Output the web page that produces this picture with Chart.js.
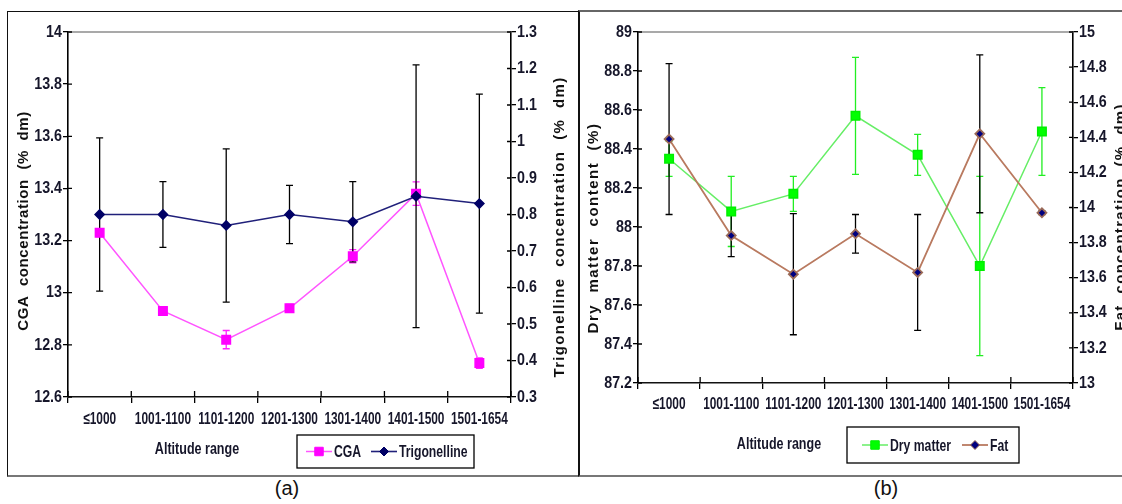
<!DOCTYPE html>
<html>
<head>
<meta charset="utf-8">
<script src="https://cdn.jsdelivr.net/npm/chart.js"></script>
<style>
  body { margin:0; background:#fff; width:1122px; height:504px; position:relative; overflow:hidden; }
  canvas { position:absolute; }
  .frame { position:absolute; box-sizing:border-box; }
  .cap { position:absolute; font:20px "Liberation Sans", Arial, sans-serif; color:#111; transform:translateX(-50%); }
</style>
</head>
<body>
<div class="frame" style="left:7px;top:11px;width:572px;height:466px;border:1.5px solid #111;border-bottom:2px solid #777;"></div>
<div class="frame" style="left:578px;top:10px;width:560px;height:467px;border-left:2px solid #111;border-top:2px solid #666;border-bottom:2px solid #777;"></div>
<canvas id="chartA" width="570" height="463" style="left:8px;top:12px;"></canvas>
<canvas id="chartB" width="542" height="463" style="left:580px;top:12px;"></canvas>
<div class="cap" style="left:287px;top:477px;">(a)</div>
<div class="cap" style="left:886px;top:477px;">(b)</div>
<script>
// === DATA ===
const altitudes = ['≤1000', '1001-1100', '1101-1200', '1201-1300', '1301-1400', '1401-1500', '1501-1654'];

const cga      = [13.23, 12.93, 12.82, 12.94, 13.14, 13.38, 12.73];
const cgaErr   = [0.015, 0.015, 0.035, 0.015, 0.025, 0.045, 0.02];
const trigonelline = [0.80, 0.80, 0.77, 0.80, 0.78, 0.85, 0.83];
const trigErr      = [0.21, 0.09, 0.21, 0.08, 0.11, 0.36, 0.30];

const dryMatter = [88.35, 88.08, 88.17, 88.57, 88.37, 87.80, 88.49];
const dryErr    = [0.09, 0.18, 0.09, 0.30, 0.105, 0.46, 0.225];
const fat       = [14.39, 13.84, 13.62, 13.85, 13.63, 14.42, 13.97];
const fatErr    = [0.43, 0.12, 0.345, 0.11, 0.33, 0.45, 0.01];

const FONT = '"Liberation Sans", Arial, sans-serif';
const TICK_COLOR = '#16162a';

// condensed text: liberation sans squeezed horizontally (arial narrow look)
function narrowText(ctx, text, x, y, align, squeeze) {
  ctx.save();
  ctx.translate(x, y);
  ctx.scale(squeeze, 1);
  ctx.textAlign = align;
  ctx.fillText(text, 0, 0);
  ctx.restore();
}

// === ERROR BARS (from the same scales) ===
const errorBars = {
  id: 'errorBars',
  beforeDatasetsDraw(chart) {
    const ctx = chart.ctx;
    chart.data.datasets.forEach((ds, i) => {
      if (!ds.errors) return;
      const meta = chart.getDatasetMeta(i);
      const ys = chart.scales[ds.yAxisID];
      ctx.save();
      ctx.strokeStyle = ds.errorColor;
      ctx.lineWidth = 1.3;
      meta.data.forEach((pt, j) => {
        const top = ys.getPixelForValue(ds.data[j] + ds.errors[j]);
        const bot = ys.getPixelForValue(ds.data[j] - ds.errors[j]);
        ctx.beginPath();
        ctx.moveTo(pt.x, top); ctx.lineTo(pt.x, bot);
        ctx.moveTo(pt.x - 3.5, top); ctx.lineTo(pt.x + 3.5, top);
        ctx.moveTo(pt.x - 3.5, bot); ctx.lineTo(pt.x + 3.5, bot);
        ctx.stroke();
      });
      ctx.restore();
    });
  }
};

// === TICK LABELS, TITLES, TOP LINE, LEGEND BOX ===
const decor = {
  id: 'decor',
  afterDraw(chart, args, o) {
    const ctx = chart.ctx, a = chart.chartArea;
    ctx.save();
    ctx.strokeStyle = '#8c8c8c'; ctx.lineWidth = 1.5;
    ctx.beginPath(); ctx.moveTo(a.left, a.top); ctx.lineTo(a.right, a.top); ctx.stroke();

    // inner half of the crossing tick marks
    ctx.strokeStyle = '#000'; ctx.lineWidth = 1.3;
    ctx.beginPath();
    ['yL', 'yR'].forEach(id => {
      const s = chart.scales[id];
      s.ticks.forEach((t, i) => {
        const y = s.getPixelForTick(i);
        if (s.position === 'left') { ctx.moveTo(a.left, y); ctx.lineTo(a.left + 4, y); }
        else { ctx.moveTo(a.right, y); ctx.lineTo(a.right - 4, y); }
      });
    });
    const xs = chart.scales.x;
    const bw = (a.right - a.left) / xs.ticks.length;
    for (let i = 0; i <= xs.ticks.length; i++) {
      const x = a.left + i * bw;
      ctx.moveTo(x, a.bottom); ctx.lineTo(x, a.bottom - 6);
    }
    ctx.stroke();

    // tick labels
    ctx.fillStyle = TICK_COLOR; ctx.textBaseline = 'middle';
    ctx.font = 'bold 17px ' + FONT;
    ['yL', 'yR'].forEach(id => {
      const s = chart.scales[id];
      s.ticks.forEach((t, i) => {
        const y = s.getPixelForTick(i);
        if (s.position === 'left') narrowText(ctx, fmt(t.value), s.right - 6, y, 'right', 0.84);
        else narrowText(ctx, fmt(t.value), s.left + 6, y, 'left', 0.84);
      });
    });
    ctx.font = 'bold 16.5px ' + FONT;
    xs.ticks.forEach((t, i) => narrowText(ctx, xs.getLabelForValue(t.value), xs.getPixelForTick(i), xs.top + o.labelGap, 'center', 0.72));

    // axis titles
    ctx.fillStyle = '#111';
    ctx.textAlign = 'center';
    ctx.font = 'bold 15px ' + FONT;
    o.yTitles.forEach(t => {
      ctx.save(); ctx.translate(t.x, t.y); ctx.rotate(-Math.PI / 2);
      ctx.letterSpacing = t.spacing + 'px';
      ctx.fillText(t.text, 0, 0); ctx.restore();
    });
    ctx.font = 'bold 16.5px ' + FONT;
    ctx.fillStyle = TICK_COLOR;
    narrowText(ctx, o.xTitle.text, o.xTitle.x, o.xTitle.y, 'center', 0.76);

    // legend
    const L = o.legend;
    ctx.strokeStyle = '#000'; ctx.lineWidth = 1.3;
    ctx.strokeRect(L.x, L.y, L.w, L.h);
    const cy = L.y + L.h / 2;
    L.items.forEach(it => {
      const ds = chart.data.datasets[it.ds];
      ctx.strokeStyle = ds.borderColor; ctx.lineWidth = ds.borderWidth;
      ctx.beginPath(); ctx.moveTo(it.x, cy); ctx.lineTo(it.x + 26, cy); ctx.stroke();
      ctx.fillStyle = ds.pointBackgroundColor; ctx.strokeStyle = ds.pointBorderColor;
      ctx.lineWidth = 1;
      Chart.helpers.drawPoint(ctx, { pointStyle: ds.pointStyle, radius: ds.pointRadius, rotation: 0, borderWidth: 1 }, it.x + 13, cy);
      ctx.fillStyle = TICK_COLOR;
      narrowText(ctx, it.text, it.x + 28, cy + 1, 'left', 0.74);
    });
    ctx.restore();
  }
};

function fmt(v) { return String(+v.toFixed(1)); }

function yAxis(pos, min, max, step, width) {
  return {
    type: 'linear', position: pos, min: min, max: max,
    afterFit: s => { s.width = width; },
    border: { color: '#000', width: 1.6 },
    grid: { drawOnChartArea: false, color: '#000', lineWidth: 1.3, tickLength: 5 },
    ticks: { stepSize: step, display: false }
  };
}

function xAxis(height) {
  return {
    type: 'category', offset: true,
    afterFit: s => { s.height = height; },
    border: { color: '#111', width: 1.6 },
    grid: { offset: true, drawOnChartArea: false, color: '#000', lineWidth: 1.3, tickLength: 6 },
    ticks: { autoSkip: false, maxRotation: 0, display: false }
  };
}

const common = {
  responsive: false, animation: false,
  layout: { padding: { top: 20, left: 0, right: 0, bottom: 0 } },
  plugins: { legend: { display: false }, tooltip: { enabled: false } }
};

// === (a) CGA / TRIGONELLINE ===
new Chart(document.getElementById('chartA'), {
  type: 'line',
  data: {
    labels: altitudes,
    datasets: [
      { label: 'CGA', data: cga, errors: cgaErr, errorColor: '#ff22ff', yAxisID: 'yL', order: 1,
        borderColor: '#ff55ff', borderWidth: 1.5, pointStyle: 'rect', pointRadius: 6,
        pointBackgroundColor: '#ff00ff', pointBorderColor: '#ff00ff', tension: 0 },
      { label: 'Trigonelline', data: trigonelline, errors: trigErr, errorColor: '#000', yAxisID: 'yR', order: 0,
        borderColor: '#20207a', borderWidth: 1.6, pointStyle: 'rectRot', pointRadius: 4.5,
        pointBackgroundColor: '#000066', pointBorderColor: '#000066', tension: 0 }
    ]
  },
  options: Object.assign({}, common, {
    scales: {
      x: xAxis(78),
      yL: yAxis('left', 12.6, 14, 0.2, 60),
      yR: yAxis('right', 0.3, 1.3, 0.1, 67)
    },
    plugins: Object.assign({}, common.plugins, {
      decor: {
        labelGap: 22,
        yTitles: [
          { text: 'CGA  concentration  (%  dm)', x: 16, y: 209, spacing: 0.6 },
          { text: 'Trigonelline  concentration  (%  dm)', x: 552, y: 215, spacing: 1.3 }
        ],
        xTitle: { text: 'Altitude range', x: 189, y: 437 },
        legend: { x: 289, y: 423, w: 177, h: 33,
          items: [ { ds: 0, x: 298, text: 'CGA' }, { ds: 1, x: 363, text: 'Trigonelline' } ] }
      }
    })
  }),
  plugins: [errorBars, decor]
});

// === (b) DRY MATTER / FAT ===
new Chart(document.getElementById('chartB'), {
  type: 'line',
  data: {
    labels: altitudes,
    datasets: [
      { label: 'Dry matter', data: dryMatter, errors: dryErr, errorColor: '#22ee22', yAxisID: 'yL', order: 1,
        borderColor: '#66ee66', borderWidth: 1.5, pointStyle: 'rect', pointRadius: 6,
        pointBackgroundColor: '#00ff00', pointBorderColor: '#00ee00', tension: 0 },
      { label: 'Fat', data: fat, errors: fatErr, errorColor: '#000', yAxisID: 'yR', order: 0,
        borderColor: '#b97a60', borderWidth: 1.8, pointStyle: 'rectRot', pointRadius: 4.5,
        pointBackgroundColor: '#000080', pointBorderColor: '#9a6a58', tension: 0 }
    ]
  },
  options: Object.assign({}, common, {
    scales: {
      x: xAxis(92),
      yL: yAxis('left', 87.2, 89, 0.2, 58),
      yR: yAxis('right', 13, 15, 0.2, 49)
    },
    plugins: Object.assign({}, common.plugins, {
      decor: {
        labelGap: 21,
        yTitles: [
          { text: 'Dry  matter  content  (%)', x: 14, y: 216, spacing: 1.5 },
          { text: 'Fat  concentration  (%  dm)', x: 541, y: 205, spacing: 1.3 }
        ],
        xTitle: { text: 'Altitude range', x: 199, y: 432 },
        legend: { x: 267, y: 415, w: 172, h: 36,
          items: [ { ds: 0, x: 282, text: 'Dry matter' }, { ds: 1, x: 382, text: 'Fat' } ] }
      }
    })
  }),
  plugins: [errorBars, decor]
});
</script>
</body>
</html>
